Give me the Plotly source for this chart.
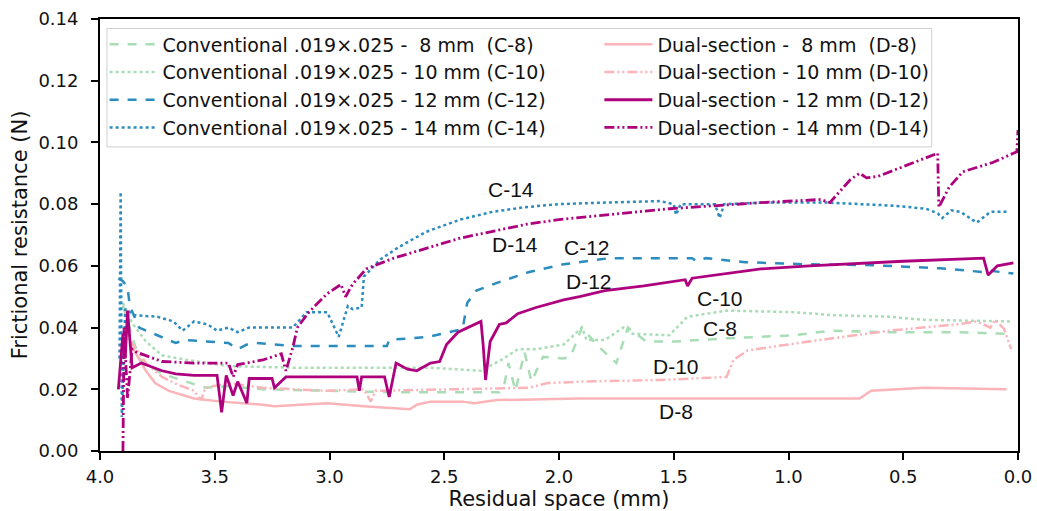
import plotly.graph_objects as go

# ---------------- data ----------------
c8_x = [3.90, 3.83, 3.73, 3.62, 3.54, 3.44, 3.29, 3.00, 2.70, 2.26, 2.24, 2.22, 2.19, 2.15, 2.12, 2.07, 1.98, 1.95, 1.90, 1.83, 1.75, 1.70, 1.62, 1.49, 1.27, 0.98, 0.81, 0.56, 0.27, 0.05, 0.03]
c8_y = [0.047, 0.030, 0.025, 0.0225, 0.0205, 0.021, 0.020, 0.0195, 0.019, 0.019, 0.021, 0.0285, 0.0195, 0.032, 0.0225, 0.0305, 0.030, 0.0305, 0.040, 0.034, 0.0285, 0.040, 0.0355, 0.0355, 0.0365, 0.0375, 0.039, 0.0385, 0.0385, 0.038, 0.0375]

c10_x = [3.90, 3.86, 3.80, 3.73, 3.62, 3.44, 3.15, 3.01, 2.56, 2.34, 2.24, 2.18, 2.10, 1.98, 1.90, 1.88, 1.80, 1.72, 1.68, 1.52, 1.44, 1.27, 0.98, 0.80, 0.56, 0.41, 0.03]
c10_y = [0.048, 0.0415, 0.0355, 0.031, 0.0295, 0.0275, 0.027, 0.027, 0.027, 0.026, 0.030, 0.033, 0.033, 0.0345, 0.040, 0.036, 0.036, 0.040, 0.038, 0.0375, 0.0435, 0.0455, 0.045, 0.044, 0.0435, 0.0425, 0.042]

c12_x = [3.92, 3.90, 3.88, 3.87, 3.83, 3.73, 3.67, 3.63, 3.54, 3.44, 3.40, 3.36, 3.32, 3.15, 3.03, 2.90, 2.75, 2.74, 2.57, 2.42, 2.40, 2.36, 2.27, 2.13, 1.98, 1.78, 1.60, 1.42, 1.40, 1.36, 1.19, 0.92, 0.63, 0.34, 0.15, 0.13, 0.02]
c12_y = [0.056, 0.055, 0.053, 0.047, 0.040, 0.037, 0.035, 0.036, 0.0355, 0.035, 0.033, 0.0345, 0.035, 0.034, 0.034, 0.034, 0.034, 0.036, 0.037, 0.0395, 0.048, 0.052, 0.0545, 0.058, 0.0605, 0.0625, 0.0625, 0.0625, 0.0615, 0.0625, 0.0612, 0.0605, 0.0602, 0.0592, 0.058, 0.0585, 0.0575]

c14_x = [3.915, 3.91, 3.905, 3.89, 3.85, 3.75, 3.68, 3.64, 3.59, 3.53, 3.49, 3.44, 3.40, 3.35, 3.25, 3.16, 3.10, 3.01, 2.96, 2.92, 2.90, 2.86, 2.85, 2.78, 2.70, 2.58, 2.43, 2.29, 2.15, 2.00, 1.80, 1.56, 1.50, 1.49, 1.47, 1.32, 1.30, 1.28, 1.10, 0.83, 0.54, 0.40, 0.35, 0.33, 0.29, 0.25, 0.18, 0.12, 0.04]
c14_y = [0.030, 0.084, 0.011, 0.046, 0.044, 0.0435, 0.042, 0.039, 0.042, 0.041, 0.039, 0.040, 0.0385, 0.040, 0.040, 0.040, 0.045, 0.045, 0.037, 0.047, 0.046, 0.0465, 0.0565, 0.062, 0.066, 0.071, 0.075, 0.0775, 0.079, 0.080, 0.0805, 0.081, 0.080, 0.0765, 0.080, 0.080, 0.0755, 0.080, 0.0805, 0.0805, 0.0795, 0.0785, 0.077, 0.0755, 0.078, 0.0775, 0.074, 0.0775, 0.0775]

d8_x = [3.87, 3.80, 3.76, 3.70, 3.59, 3.47, 3.29, 3.24, 3.01, 2.85, 2.65, 2.62, 2.56, 2.42, 2.37, 2.27, 1.91, 1.20, 0.69, 0.64, 0.41, 0.05]
d8_y = [0.035, 0.026, 0.022, 0.0195, 0.017, 0.016, 0.015, 0.0145, 0.0155, 0.0145, 0.0135, 0.015, 0.016, 0.016, 0.0155, 0.0165, 0.017, 0.017, 0.017, 0.0195, 0.0205, 0.020]

d10_x = [3.87, 3.80, 3.73, 3.66, 3.59, 3.56, 3.54, 3.44, 3.29, 3.01, 2.85, 2.82, 2.80, 2.50, 2.13, 2.05, 1.90, 1.56, 1.27, 1.24, 1.18, 1.05, 0.91, 0.56, 0.27, 0.18, 0.12, 0.10, 0.06, 0.03]
d10_y = [0.036, 0.0285, 0.024, 0.0215, 0.0195, 0.0165, 0.0205, 0.022, 0.0205, 0.0195, 0.020, 0.016, 0.0195, 0.020, 0.0205, 0.022, 0.0225, 0.023, 0.024, 0.0295, 0.0325, 0.034, 0.0355, 0.039, 0.041, 0.042, 0.040, 0.0425, 0.0395, 0.033]

d12_x = [3.92, 3.90, 3.89, 3.88, 3.86, 3.82, 3.73, 3.67, 3.59, 3.49, 3.47, 3.45, 3.42, 3.40, 3.36, 3.35, 3.25, 3.24, 3.19, 3.01, 2.88, 2.87, 2.86, 2.76, 2.74, 2.71, 2.66, 2.62, 2.56, 2.52, 2.49, 2.44, 2.34, 2.33, 2.32, 2.30, 2.26, 2.23, 2.18, 2.10, 1.98, 1.91, 1.80, 1.63, 1.45, 1.44, 1.42, 1.12, 0.91, 0.50, 0.15, 0.13, 0.09, 0.02]
d12_y = [0.020, 0.038, 0.030, 0.0455, 0.027, 0.0285, 0.026, 0.025, 0.0245, 0.0245, 0.0125, 0.0245, 0.018, 0.0225, 0.0155, 0.0235, 0.0235, 0.0205, 0.024, 0.024, 0.024, 0.0195, 0.024, 0.024, 0.0175, 0.0285, 0.0265, 0.026, 0.0285, 0.029, 0.0345, 0.0385, 0.042, 0.034, 0.023, 0.0355, 0.041, 0.0415, 0.0445, 0.0465, 0.049, 0.050, 0.052, 0.0535, 0.0555, 0.0535, 0.056, 0.059, 0.060, 0.0615, 0.0625, 0.057, 0.060, 0.061]

d14_x = [3.90, 3.895, 3.88, 3.86, 3.84, 3.73, 3.59, 3.44, 3.42, 3.40, 3.29, 3.21, 3.19, 3.16, 3.14, 3.09, 3.01, 2.95, 2.93, 2.90, 2.84, 2.72, 2.43, 2.14, 2.00, 1.52, 1.12, 0.86, 0.82, 0.73, 0.69, 0.66, 0.61, 0.35, 0.345, 0.30, 0.24, 0.11, 0.02, 0.005, 0.0]
d14_y = [0.000, 0.040, 0.017, 0.033, 0.032, 0.029, 0.0285, 0.0285, 0.024, 0.028, 0.0295, 0.0315, 0.026, 0.0335, 0.040, 0.045, 0.051, 0.054, 0.050, 0.054, 0.059, 0.0625, 0.069, 0.0735, 0.075, 0.0785, 0.0805, 0.0815, 0.0805, 0.088, 0.090, 0.0885, 0.089, 0.0965, 0.079, 0.0855, 0.0905, 0.0935, 0.0965, 0.097, 0.104]

legend_c = ["Conventional .019×.025 -\u00a0 8 mm\u00a0 (C-8)",
            "Conventional .019×.025 - 10 mm (C-10)",
            "Conventional .019×.025 - 12 mm (C-12)",
            "Conventional .019×.025 - 14 mm (C-14)"]
legend_d = ["Dual-section -\u00a0 8 mm\u00a0 (D-8)",
            "Dual-section - 10 mm (D-10)",
            "Dual-section - 12 mm (D-12)",
            "Dual-section - 14 mm (D-14)"]

label_text = ["C-14", "D-14", "C-12", "D-12", "C-10", "C-8", "D-10", "D-8"]
label_x = [2.21, 2.19, 1.88, 1.87, 1.30, 1.30, 1.49, 1.49]
label_y = [0.0846, 0.0668, 0.0658, 0.0548, 0.0494, 0.0396, 0.0275, 0.0129]

x_ticks = [4.0, 3.5, 3.0, 2.5, 2.0, 1.5, 1.0, 0.5, 0.0]

# ---------------- styles ----------------
GREEN = "#a8ddb5"
BLUE = "#2b8cbe"
PINK = "#fbb4b9"
PURPLE = "#ae017e"
DDOT = "10px,3px,2px,3px,2px,3px"

series = [
    (c8_x, c8_y, legend_c[0], GREEN, "dash", 2.5, "legend"),
    (c10_x, c10_y, legend_c[1], GREEN, "dot", 2.5, "legend"),
    (c12_x, c12_y, legend_c[2], BLUE, "dash", 2.5, "legend"),
    (c14_x, c14_y, legend_c[3], BLUE, "dot", 2.5, "legend"),
    (d8_x, d8_y, legend_d[0], PINK, "solid", 2.5, "legend2"),
    (d10_x, d10_y, legend_d[1], PINK, DDOT, 2.5, "legend2"),
    (d12_x, d12_y, legend_d[2], PURPLE, "solid", 2.8, "legend2"),
    (d14_x, d14_y, legend_d[3], PURPLE, DDOT, 2.8, "legend2"),
]

fig = go.Figure()
for i, (xs, ys, name, col, dash, w, lg) in enumerate(series):
    fig.add_trace(go.Scatter(
        x=xs, y=ys, mode="lines", name=name, legend=lg,
        legendgroup="g%d" % i,
        line=dict(color=col, dash=dash, width=w)))

for t, xv, yv in zip(label_text, label_x, label_y):
    fig.add_annotation(x=xv, y=yv, xref="x", yref="y", text=t, showarrow=False,
                       font=dict(family="Liberation Sans, Arial", size=21, color="#111"),
                       xanchor="center", yanchor="middle")

# legend frame
fig.add_shape(type="rect", xref="paper", yref="paper",
              x0=0.0076, x1=0.906, y0=0.704, y1=0.978,
              line=dict(color="#d0d0d0", width=1),
              fillcolor="rgba(255,255,255,0.8)", layer="above")

legend_font = dict(family="DejaVu Sans", size=19, color="#111")
common_leg = dict(orientation="v", xanchor="left", yanchor="top", y=0.985,
                  bgcolor="rgba(0,0,0,0)", borderwidth=0, font=legend_font,
                  tracegroupgap=0, itemwidth=48)

axis_common = dict(showgrid=False, zeroline=False, showline=True, mirror=True,
                   linecolor="black", linewidth=1.8, ticks="outside", ticklen=7,
                   tickwidth=1.6, tickcolor="black", automargin=False,
                   tickfont=dict(family="DejaVu Sans", size=18, color="#111"))

fig.update_layout(
    width=1037, height=511,
    margin=dict(l=100, r=19, t=19, b=60),
    plot_bgcolor="white", paper_bgcolor="white",
    font=dict(family="DejaVu Sans", size=18, color="#111"),
    legend=dict(x=0.005, **common_leg),
    legend2=dict(x=0.544, **common_leg),
    xaxis=dict(range=[4.0, 0.0], tickvals=x_ticks,
               ticktext=["%.1f" % v for v in x_ticks], ticklabelstandoff=1,
               title=dict(text="Residual space (mm)", standoff=8,
                          font=dict(family="DejaVu Sans", size=21, color="#111")),
               **axis_common),
    yaxis=dict(range=[0, 0.14], dtick=0.02, tickformat=".2f", ticklabelstandoff=9,
               title=dict(text="Frictional resistance (N)", standoff=5,
                          font=dict(family="DejaVu Sans", size=21, color="#111")),
               **axis_common),
)

fig.write_html("out.html", config={"displayModeBar": False},
               post_script="document.body.style.margin='0';")
